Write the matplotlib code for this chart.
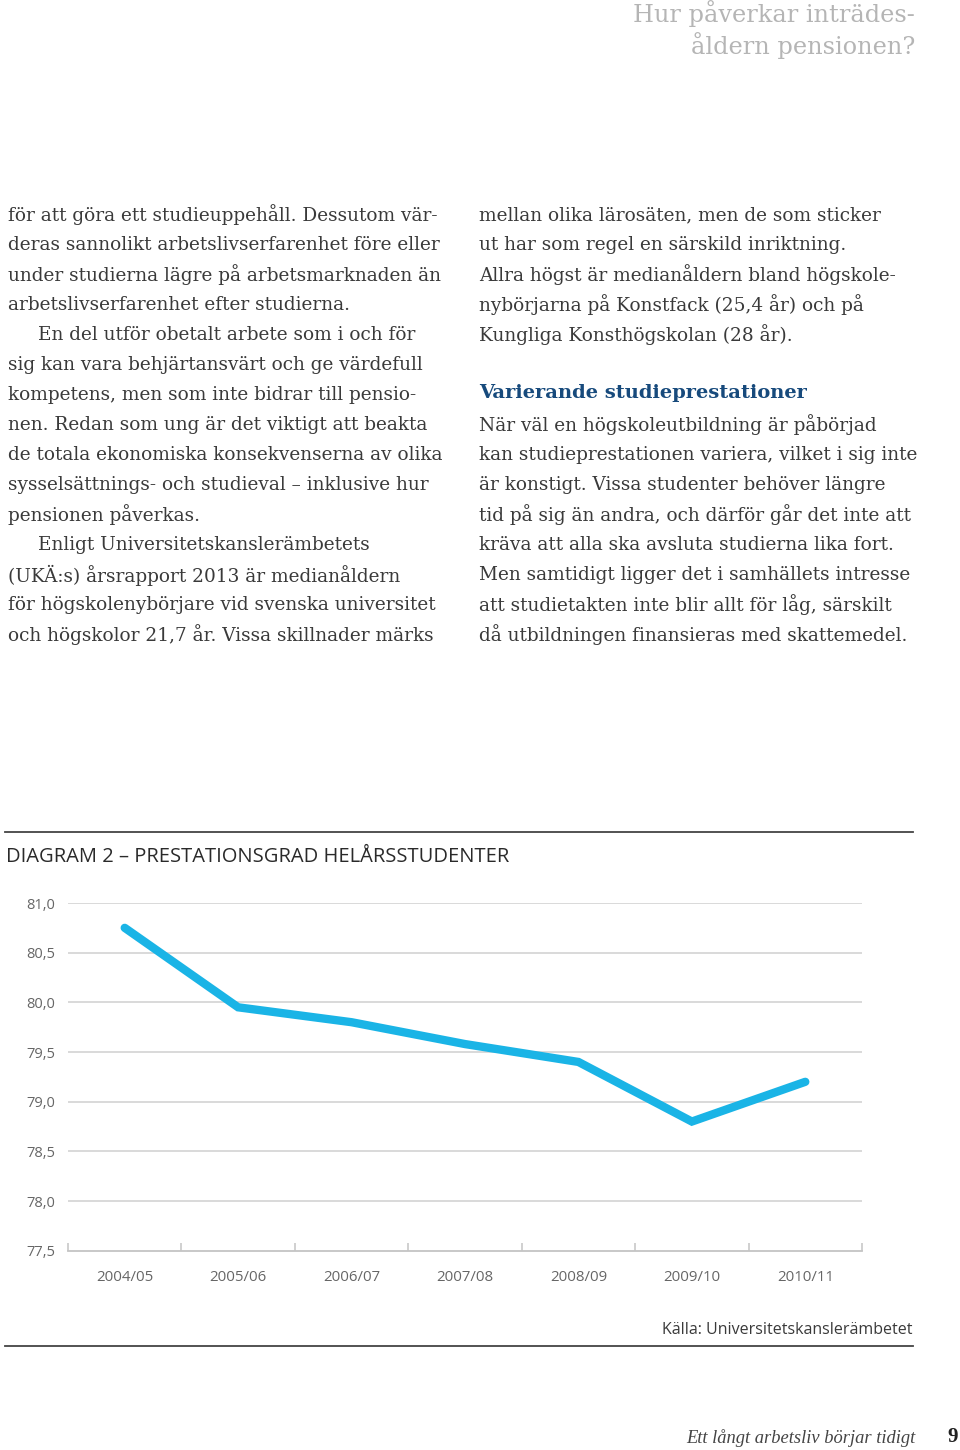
import numpy as np
import matplotlib.pyplot as plt
from matplotlib.ticker import FixedLocator

years = ['2004/05', '2005/06', '2006/07', '2007/08', '2008/09', '2009/10', '2010/11']
grad = [80.75, 79.95, 79.8, 79.58, 79.4, 78.8, 79.2]
yticks = [77.5, 78.0, 78.5, 79.0, 79.5, 80.0, 80.5, 81.0]

left_col = [
    "för att göra ett studieuppehåll. Dessutom vär-",
    "deras sannolikt arbetslivserfarenhet före eller",
    "under studierna lägre på arbetsmarknaden än",
    "arbetslivserfarenhet efter studierna.",
    "En del utför obetalt arbete som i och för",
    "sig kan vara behjärtansvärt och ge värdefull",
    "kompetens, men som inte bidrar till pensio-",
    "nen. Redan som ung är det viktigt att beakta",
    "de totala ekonomiska konsekvenserna av olika",
    "sysselsättnings- och studieval – inklusive hur",
    "pensionen påverkas.",
    "Enligt Universitetskanslerämbetets",
    "(UKÄ:s) årsrapport 2013 är medianåldern",
    "för högskolenybörjare vid svenska universitet",
    "och högskolor 21,7 år. Vissa skillnader märks",
]
left_indent = [4, 11]
right_top = [
    "mellan olika lärosäten, men de som sticker",
    "ut har som regel en särskild inriktning.",
    "Allra högst är medianåldern bland högskole-",
    "nybörjarna på Konstfack (25,4 år) och på",
    "Kungliga Konsthögskolan (28 år).",
]
right_head = "Varierande studieprestationer"
right_bottom = [
    "När väl en högskoleutbildning är påbörjad",
    "kan studieprestationen variera, vilket i sig inte",
    "är konstigt. Vissa studenter behöver längre",
    "tid på sig än andra, och därför går det inte att",
    "kräva att alla ska avsluta studierna lika fort.",
    "Men samtidigt ligger det i samhällets intresse",
    "att studietakten inte blir allt för låg, särskilt",
    "då utbildningen finansieras med skattemedel.",
]

W, H = 960, 1450
fig = plt.figure(figsize=(9.6, 14.5), dpi=100)

def fx(px):
    return px / W

def fy(py):
    return 1 - py / H

serif = 'DejaVu Serif'
sans = 'Open Sans'
txt = '#3a3a3a'
body = 13.35

# header
fig.text(fx(915), fy(14), "Hur påverkar inträdes-", ha='right', va='center',
         family=serif, fontsize=17.3, color='#b5b5b5')
fig.text(fx(915), fy(46), "åldern pensionen?", ha='right', va='center',
         family=serif, fontsize=17.3, color='#b5b5b5')

# body text
for i, line in enumerate(left_col):
    x = 38 if i in left_indent else 8
    fig.text(fx(x), fy(215 + 30 * i), line, ha='left', va='center',
             family=serif, fontsize=body, color=txt)
for i, line in enumerate(right_top):
    fig.text(fx(479), fy(215 + 30 * i), line, ha='left', va='center',
             family=serif, fontsize=body, color=txt)
fig.text(fx(479), fy(393), right_head, ha='left', va='center',
         family=serif, fontsize=14.0, fontweight='bold', color='#174a7c')
for i, line in enumerate(right_bottom):
    fig.text(fx(479), fy(425 + 30 * i), line, ha='left', va='center',
             family=serif, fontsize=body, color=txt)

# rules
fig.add_artist(plt.Line2D([fx(5), fx(913)], [fy(832), fy(832)], color='#444444', lw=1.3))
fig.add_artist(plt.Line2D([fx(5), fx(913)], [fy(1346), fy(1346)], color='#444444', lw=1.3))

fig.text(fx(6), fy(857), "DIAGRAM 2 – PRESTATIONSGRAD HELÅRSSTUDENTER", ha='left', va='center',
         family=sans, fontsize=14.5, color='#2a2a2a')

# chart
ax = fig.add_axes([fx(68), fy(1250.7), fx(862) - fx(68), fy(903) - fy(1250.7)])
x = np.arange(len(years))
ax.plot(x, grad, color='#1ab4e6', lw=6, solid_capstyle='round', solid_joinstyle='miter', zorder=3)
ax.set_xlim(-0.5, len(years) - 0.5)
ax.set_ylim(77.5, 81.0)
ax.set_yticks(yticks)
ax.set_yticklabels([f"{v:.1f}".replace('.', ',') for v in yticks])
ax.set_xticks(x)
ax.set_xticklabels(years)
ax.xaxis.set_minor_locator(FixedLocator(np.arange(-0.5, len(years), 1.0)))
for v in yticks[1:]:
    ax.axhline(v, color='#cfcfcf', lw=1.1, zorder=1)
for s in ['top', 'right', 'left']:
    ax.spines[s].set_visible(False)
ax.spines['bottom'].set_color('#c4c4c4')
ax.spines['bottom'].set_linewidth(1.3)
ax.tick_params(axis='y', length=0, pad=9, labelsize=10.5, labelcolor='#666666')
ax.tick_params(axis='x', which='major', length=0, pad=14, labelsize=10.8, labelcolor='#666666')
ax.tick_params(axis='x', which='minor', direction='in', length=6, width=1.1, color='#c4c4c4')
for lab in ax.get_xticklabels() + ax.get_yticklabels():
    lab.set_family(sans)

fig.text(fx(912), fy(1330), "Källa: Universitetskanslerämbetet", ha='right', va='center',
         family=sans, fontsize=11.5, color='#3a3a3a')

# footer
fig.text(fx(915), fy(1438), "Ett långt arbetsliv börjar tidigt", ha='right', va='center',
         family='Liberation Serif', fontsize=13.3, style='italic', color='#444444')
fig.text(fx(958), fy(1437), "9", ha='right', va='center',
         family='Liberation Serif', fontsize=15, fontweight='bold', color='#222222')

fig.savefig('out.png', dpi=100, facecolor='white')
